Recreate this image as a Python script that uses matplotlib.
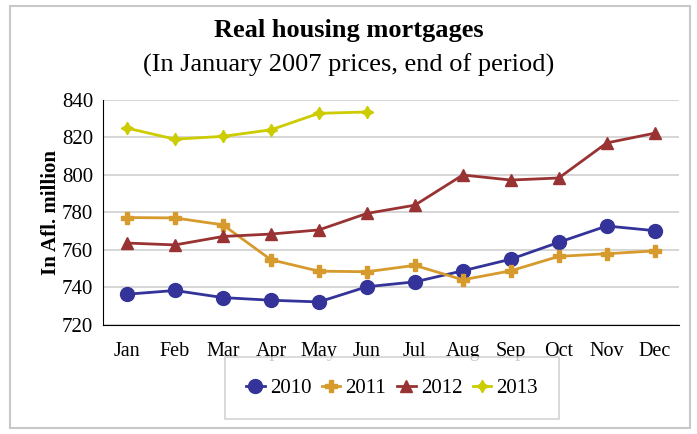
import matplotlib.pyplot as plt
from matplotlib.patches import Rectangle

months = ['Jan', 'Feb', 'Mar', 'Apr', 'May', 'Jun',
          'Jul', 'Aug', 'Sep', 'Oct', 'Nov', 'Dec']
mortgages_2010 = [736.4, 738.4, 734.6, 733.2, 732.3, 740.4,
                  743.0, 748.9, 755.1, 764.1, 772.8, 770.3]
mortgages_2011 = [777.3, 777.1, 773.4, 754.8, 748.7, 748.4,
                  751.8, 744.1, 748.9, 756.6, 758.0, 759.5]
mortgages_2012 = [763.7, 762.7, 767.2, 768.5, 770.7, 779.5,
                  783.9, 800.0, 797.3, 798.4, 817.1, 822.3]
mortgages_2013 = [825.0, 819.1, 820.6, 824.1, 832.9, 833.6]
yticks = [720, 740, 760, 780, 800, 820, 840]

plt.rcParams['font.family'] = ['Liberation Serif', 'DejaVu Serif']

fig = plt.figure(figsize=(6.97, 4.34), dpi=100)
fig.patches.append(Rectangle((10 / 697, 1 - 428 / 434), 680 / 697, 422 / 434,
                             transform=fig.transFigure, fill=False,
                             edgecolor='#c8c8c8', linewidth=1.5))

ax = fig.add_axes([0.1478, 0.2512, 0.826, 0.5184])
x = list(range(len(months)))

ax.plot(x, mortgages_2010, color='#333399', marker='o', markersize=10,
        linewidth=2, label='2010')
ax.plot(x, mortgages_2011, color='#d69a2d', marker='P', markersize=8,
        linewidth=2, label='2011')
ax.plot(x, mortgages_2012, color='#993333', marker='^', markersize=8,
        linewidth=2, label='2012')
ax.plot(x[:len(mortgages_2013)], mortgages_2013, color='#cccc00',
        marker=(4, 1, 0), markersize=9, linewidth=2, label='2013')

ax.set_xlim(-0.5, 11.5)
ax.set_ylim(720, 840)
ax.set_yticks(yticks)
ax.set_xticks(x)
ax.set_xticklabels(months)
ax.tick_params(axis='both', length=0)
ax.tick_params(axis='y', pad=7, labelsize=15)
ax.tick_params(axis='x', pad=12, labelsize=14.5)
ax.grid(axis='y', color='#d0d0d0', linewidth=1.2)
ax.set_axisbelow(True)
for side in ('top', 'right'):
    ax.spines[side].set_visible(False)
ax.spines['left'].set_color('black')
ax.spines['bottom'].set_color('black')
ax.set_ylabel('In Afl. million', fontsize=15, fontweight='bold', labelpad=1)

fig.text(0.5, 1 - 30 / 434, 'Real housing mortgages', ha='center', va='center',
         fontsize=19, fontweight='bold')
fig.text(0.5, 1 - 65 / 434, '(In January 2007 prices, end of period)',
         ha='center', va='center', fontsize=19)

leg = fig.legend(loc='center', bbox_to_anchor=(392 / 697, 1 - 388 / 434),
                 ncol=4, fontsize=15, frameon=True, fancybox=False,
                 handlelength=0.9, handletextpad=0.25, columnspacing=0.5,
                 borderpad=1.0)
leg.get_frame().set_edgecolor('#c8c8c8')
leg.get_frame().set_linewidth(1.2)

fig.savefig('out.png', dpi=100)
